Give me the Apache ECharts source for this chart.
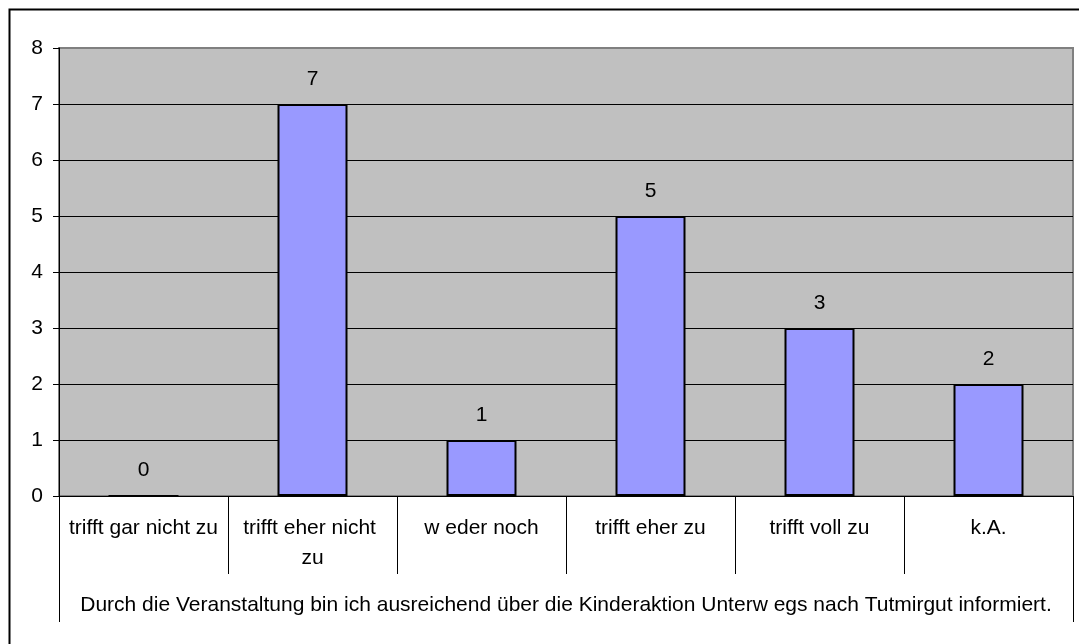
<!DOCTYPE html>
<html lang="de">
<head>
    <meta charset="UTF-8">
    <title>Kinderaktion</title>
    <script src="https://cdn.jsdelivr.net/npm/echarts@6/dist/echarts.min.js"></script>
</head>
<body style="margin:0">
<div id="echarts" style="width: 1079px;height:644px"></div>
<script>
    var chartDom = document.getElementById('echarts');
    var myChart = echarts.init(chartDom);
    var option;

    // Daten
    var categories = ['trifft gar nicht zu', 'trifft eher nicht zu', 'w eder noch', 'trifft eher zu', 'trifft voll zu', 'k.A.'];
    var values = [0, 7, 1, 5, 3, 2];
    var groupLabel = ['Durch die Veranstaltung bin ich ausreichend über die Kinderaktion Unterw egs nach Tutmirgut informiert.'];
    var yTicks = [0, 1, 2, 3, 4, 5, 6, 7, 8];

    var font = 'Liberation Sans, Arial, sans-serif';

    option = {
        backgroundColor: '#ffffff',
        animation: false,
        graphic: [{
            type: 'rect',
            left: 7,
            top: 7,
            shape: { width: 1200, height: 800 },
            style: { fill: 'none', stroke: '#000', lineWidth: 2 }
        }],
        grid: {
            show: true,
            left: 59,
            top: 48,
            width: 1014,
            height: 448,
            backgroundColor: '#C0C0C0',
            borderColor: '#808080',
            borderWidth: 2
        },
        xAxis: [{
            type: 'category',
            data: categories,
            axisLine: { lineStyle: { color: '#000', width: 1 } },
            axisTick: { show: true, length: 78, lineStyle: { color: '#000' } },
            axisLabel: {
                interval: 0,
                margin: 17,
                color: '#000',
                fontFamily: font,
                fontSize: 21,
                lineHeight: 30,
                width: 155,
                overflow: 'break'
            }
        }, {
            type: 'category',
            position: 'bottom',
            data: groupLabel,
            axisLine: { show: false },
            axisTick: { show: true, length: 126, lineStyle: { color: '#000' } },
            axisLabel: {
                interval: 0,
                margin: 99,
                color: '#000',
                fontFamily: font,
                fontSize: 21
            }
        }],
        yAxis: {
            type: 'value',
            min: yTicks[0],
            max: yTicks[yTicks.length - 1],
            interval: 1,
            axisLine: { show: true, lineStyle: { color: '#000', width: 1 } },
            axisTick: { show: true, length: 6, lineStyle: { color: '#000' } },
            axisLabel: {
                margin: 16,
                color: '#000',
                fontFamily: font,
                fontSize: 21
            },
            splitLine: { show: true, showMaxLine: false, lineStyle: { color: '#000', width: 1 } }
        },
        series: [{
            type: 'bar',
            xAxisIndex: 0,
            barWidth: 70,
            itemStyle: {
                color: '#9999FF',
                borderColor: '#000',
                borderWidth: 2
            },
            label: {
                show: true,
                position: 'top',
                distance: 14,
                color: '#000',
                fontFamily: font,
                fontSize: 21
            },
            data: values
        }]
    };

    option && myChart.setOption(option);
</script>
</body>
</html>
